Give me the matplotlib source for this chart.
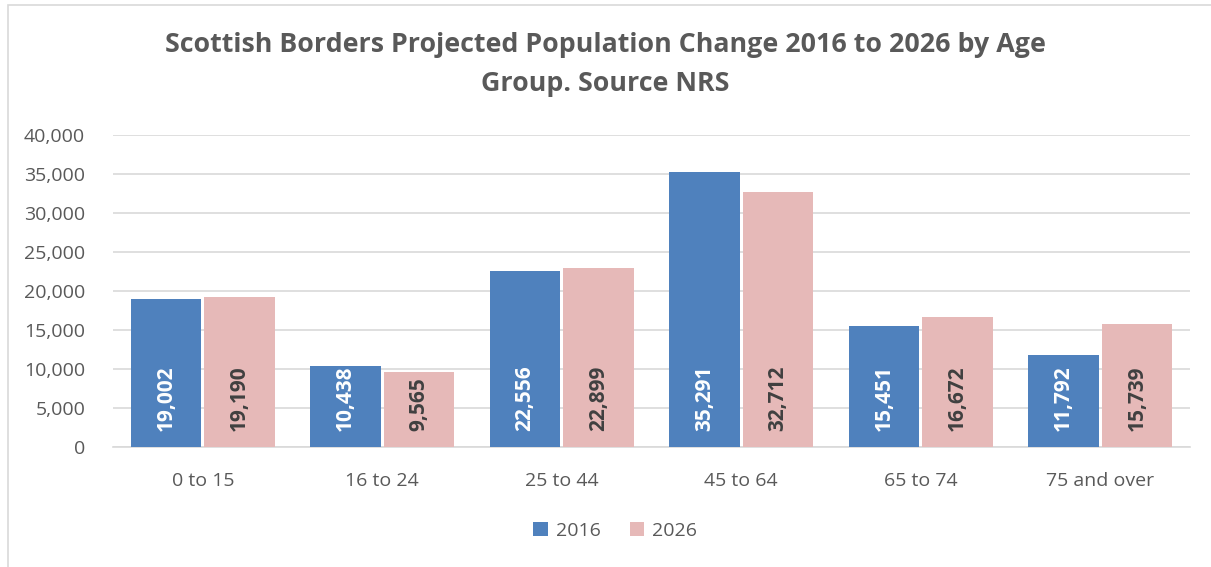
import matplotlib.pyplot as plt
import matplotlib.patches as mpatches
import numpy as np

# data
age_groups = ['0 to 15', '16 to 24', '25 to 44', '45 to 64', '65 to 74', '75 and over']
pop_2016 = [19002, 10438, 22556, 35291, 15451, 11792]
pop_2026 = [19190, 9565, 22899, 32712, 16672, 15739]
series_names = ['2016', '2026']

blue = '#4F81BD'
pink = '#E6B9B8'
grey = '#595959'

plt.rcParams['font.family'] = ['Open Sans', 'DejaVu Sans']

fig = plt.figure(figsize=(12.11, 5.67), dpi=100)
ax = fig.add_axes([113/1211, 1 - 447/567, 1077/1211, 312/567])

# chart border (cropped at right/bottom like the reference)
fig.patches.append(mpatches.Rectangle((8/1211, -0.1), 1.2, 1 - 5/567 + 0.1,
                                      transform=fig.transFigure, fill=False,
                                      edgecolor='#D9D9D9', linewidth=1.2))

x = np.arange(len(age_groups))
w = 0.395
off = 0.205
b1 = ax.bar(x - off, pop_2016, w, color=blue, label=series_names[0], zorder=3)
b2 = ax.bar(x + off, pop_2026, w, color=pink, label=series_names[1], zorder=3)

for xi, v in zip(x, pop_2016):
    ax.text(xi - off, 2100, f'{v:,}', rotation=90, ha='center', va='bottom',
            color='white', fontsize=15, fontweight='bold', zorder=4)
for xi, v in zip(x, pop_2026):
    ax.text(xi + off, 2100, f'{v:,}', rotation=90, ha='center', va='bottom',
            color='#404040', fontsize=15, fontweight='bold', zorder=4)

ax.set_xlim(-0.5, 5.5)
ax.set_ylim(0, 40000)
ax.set_yticks(np.arange(0, 40001, 5000))
ax.set_yticklabels([f'{t:,}' for t in range(0, 40001, 5000)])
ax.set_xticks(x)
ax.set_xticklabels(age_groups)
ax.tick_params(axis='both', length=0, labelsize=14, colors=grey)
ax.tick_params(axis='x', pad=18)
ax.tick_params(axis='y', pad=20)
ax.grid(axis='y', color='#D9D9D9', linewidth=1.2, zorder=0)
for s in ['top', 'right', 'left']:
    ax.spines[s].set_visible(False)
ax.spines['bottom'].set_color('#D9D9D9')
ax.spines['bottom'].set_linewidth(1.2)

fig.text(0.5, 1 - 65/567, 'Scottish Borders Projected Population Change 2016 to 2026 by Age\nGroup. Source NRS',
         ha='center', va='center', fontsize=19.3, fontweight='bold', color=grey, linespacing=1.65)

fig.legend(handles=[b1, b2], loc='center', bbox_to_anchor=(0.508, 1 - 531/567), ncol=2,
           frameon=False, fontsize=14, labelcolor=grey, handlelength=0.75, handleheight=0.75,
           columnspacing=1.5, handletextpad=0.4)

fig.savefig('out.png', dpi=100)
